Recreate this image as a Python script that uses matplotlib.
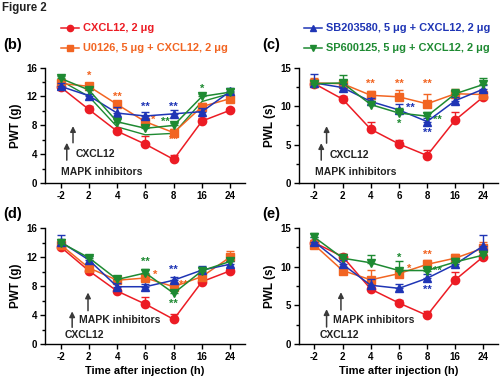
import matplotlib
matplotlib.use("Agg")
import matplotlib.pyplot as plt
from matplotlib.lines import Line2D
import numpy as np

plt.rcParams['font.family'] = ['Liberation Sans', 'DejaVu Sans']
plt.rcParams['font.weight'] = 'bold'

times = ["-2", "2", "4", "6", "8", "16", "24"]
series_names = ["CXCL12, 2 μg", "U0126, 5 μg + CXCL12, 2 μg",
                "SB203580, 5 μg + CXCL12, 2 μg", "SP600125, 5 μg + CXCL12, 2 μg"]
colors = ["#ec1c24", "#f26522", "#1f35b5", "#1e8a32"]
markers = ["o", "s", "^", "v"]

# Panel (b) PWT
b_red = [13.3, 10.2, 7.2, 5.4, 3.3, 8.6, 10.1]
b_orange = [13.8, 13.4, 10.9, 8.5, 7.0, 10.6, 11.7]
b_blue = [13.4, 12.1, 9.7, 9.3, 9.6, 9.9, 12.7]
b_green = [14.5, 12.9, 8.5, 7.6, 8.0, 12.0, 12.6]
b_green2 = [14.2, 12.0, 7.8, 6.7, 6.9, 11.3, 12.4]
b_err = [[0.3, 0.5, 0.4, 1.1, 0.6, 0.4, 0.3],
         [0.4, 0.4, 0.5, 0.5, 0.5, 0.5, 0.8],
         [0.4, 0.3, 0.8, 0.5, 0.5, 0.5, 0.5],
         [0.3, 0.4, 0.5, 0.5, 0.4, 0.4, 0.4]]
# Panel (c) PWL
c_red = [12.9, 10.9, 7.0, 5.1, 3.6, 8.2, 11.2]
c_orange = [13.0, 12.9, 11.4, 11.2, 10.3, 11.6, 11.5]
c_blue = [13.0, 12.4, 10.6, 9.5, 8.0, 10.7, 12.2]
c_green = [12.9, 13.0, 10.2, 9.1, 8.7, 11.6, 12.8]
c_err = [[0.4, 0.4, 0.9, 0.5, 0.7, 1.1, 0.3],
         [0.6, 0.5, 0.6, 0.9, 1.3, 0.6, 0.5],
         [1.1, 0.4, 0.4, 0.8, 0.4, 0.5, 0.5],
         [0.4, 1.0, 0.4, 0.6, 0.5, 0.6, 0.8]]
# Panel (d) PWT
d_red = [13.4, 10.1, 7.3, 5.5, 3.4, 8.6, 10.1]
d_orange = [13.7, 10.5, 8.8, 9.1, 7.9, 9.3, 12.0]
d_blue = [14.1, 11.6, 7.9, 7.9, 8.8, 10.2, 11.0]
d_green = [14.0, 11.9, 8.9, 9.8, 7.0, 10.1, 11.4]
d_err = [[0.3, 0.3, 0.3, 1.0, 0.7, 0.3, 0.3],
         [0.5, 0.5, 0.4, 0.6, 0.6, 0.6, 0.8],
         [0.9, 0.5, 0.5, 0.4, 0.5, 0.6, 0.4],
         [0.5, 0.3, 0.5, 0.6, 0.5, 0.5, 0.5]]
# Panel (e) PWL
e_red = [13.1, 11.3, 7.1, 5.3, 3.7, 8.3, 11.3]
e_orange = [12.8, 9.5, 8.3, 9.1, 10.3, 11.1, 12.4]
e_blue = [13.2, 10.3, 7.6, 7.2, 8.5, 10.3, 12.7]
e_green = [13.8, 11.1, 10.5, 9.5, 9.5, 10.6, 11.5]
e_err = [[0.4, 0.4, 0.3, 0.4, 0.6, 1.0, 0.3],
         [0.6, 0.5, 1.3, 0.6, 0.5, 0.6, 0.8],
         [0.6, 0.6, 0.8, 0.6, 0.5, 0.5, 1.4],
         [0.6, 0.6, 1.0, 1.2, 0.6, 0.5, 0.5]]

# asterisks: (x position, y value, text, color index)
b_stars = [(1, 14.8, "*", 1), (2, 11.9, "**", 1), (3, 10.5, "**", 2), (3.27, 8.7, "*", 1),
           (3.72, 8.5, "**", 3), (4, 10.6, "**", 2), (4, 6.0, "**", 1), (5, 13.1, "*", 3)]
c_stars = [(2, 12.9, "**", 1), (3, 12.9, "**", 1), (4, 12.9, "**", 1), (3.4, 9.8, "**", 2),
           (3, 7.7, "*", 3), (4, 6.6, "**", 2), (4.35, 8.2, "**", 3)]
d_stars = [(3, 11.3, "**", 3), (3.35, 9.6, "*", 1), (4, 10.2, "**", 2), (4.35, 8.1, "**", 1),
           (4, 5.6, "**", 3)]
e_stars = [(3, 11.2, "*", 3), (3.35, 9.7, "*", 1), (4, 11.5, "**", 1), (4.35, 9.4, "**", 3),
           (4, 7.0, "**", 2)]

W, H = 500, 380
fig = plt.figure(figsize=(W / 100, H / 100), dpi=100)


def box(l, r, top, bot):
    return [l / W, 1 - bot / H, (r - l) / W, (bot - top) / H]


def panel(rect, data, errs, extra, ymax, ystep, ylabel, stars, arrows, texts, xlabel):
    ax = fig.add_axes(rect)
    x = np.arange(len(times))
    order = [3, 1, 0, 2]
    if extra is not None:
        ax.plot(x, extra, color=colors[3], lw=1.0, zorder=2)
    for i in order:
        ax.errorbar(x, data[i], yerr=[np.zeros(len(times)), errs[i]], color=colors[i],
                    marker=markers[i], ms=6, lw=1.1, elinewidth=1.0, capsize=2.8,
                    capthick=1.0, zorder=3 + i)
    for (sx, sy, st, ci) in stars:
        ax.text(sx, sy, st, color=colors[ci], fontsize=8, ha='center', va='center',
                fontweight='bold')
    for (ax_x, y0, y1) in arrows:
        ax.annotate("", xy=(ax_x, y1), xytext=(ax_x, y0),
                    arrowprops=dict(arrowstyle='-|>', color='#3a3a3a', lw=1.1,
                                    mutation_scale=8, shrinkA=0, shrinkB=0))
    for (tx, ty, tt) in texts:
        ax.text(tx, ty, tt, fontsize=7.5, ha='left', va='center', color='#222222',
                fontweight='bold')
    ax.set_xlim(-0.55, 6.52)
    ax.set_ylim(0, ymax)
    ax.set_xticks(x)
    ax.set_xticklabels(times)
    ax.set_yticks(np.arange(0, ymax + 0.01, ystep))
    ax.set_yticks(np.arange(0, ymax + 0.01, ystep / 2), minor=True)
    ax.spines['top'].set_visible(False)
    ax.spines['right'].set_visible(False)
    for s in ['left', 'bottom']:
        ax.spines[s].set_linewidth(1.0)
    ax.tick_params(axis='both', labelsize=7, width=1.0, length=3.5, pad=2)
    ax.tick_params(axis='y', which='minor', width=1.0, length=2)
    for lab in ax.get_xticklabels() + ax.get_yticklabels():
        lab.set_fontweight('bold')
    ax.set_ylabel(ylabel, fontsize=8.5, fontweight='bold', labelpad=3)
    if xlabel:
        ax.set_xlabel("Time after injection (h)", fontsize=8, fontweight='bold', labelpad=3)
    return ax


panel(box(45, 245, 67.5, 183.3), [b_red, b_orange, b_blue, b_green], b_err, b_green2,
      16, 4, "PWT (g)", b_stars,
      [(0.22, 3.2, 5.6), (0.44, 5.6, 7.9)],
      [(0.55, 4.0, "CXCL12"), (0.02, 1.5, "MAPK inhibitors")], False)
panel(box(299, 498, 67.5, 183.3), [c_red, c_orange, c_blue, c_green], c_err, None,
      15, 5, "PWL (s)", c_stars,
      [(0.24, 3.0, 5.2), (0.43, 5.2, 7.4)],
      [(0.55, 3.7, "CXCL12"), (0.02, 1.5, "MAPK inhibitors")], False)
panel(box(45, 245, 228, 344), [d_red, d_orange, d_blue, d_green], d_err, None,
      16, 4, "PWT (g)", d_stars,
      [(0.41, 2.3, 4.5), (0.97, 4.6, 7.1)],
      [(0.64, 3.3, "MAPK inhibitors"), (0.14, 1.2, "CXCL12")], True)
panel(box(299, 498, 228, 344), [e_red, e_orange, e_blue, e_green], e_err, None,
      15, 5, "PWL (s)", e_stars,
      [(0.43, 2.2, 4.5), (0.94, 4.4, 6.7)],
      [(0.66, 3.1, "MAPK inhibitors"), (0.2, 1.2, "CXCL12")], True)

# panel labels
for (px, py, pl) in [(3, 45, "(b)"), (262, 45, "(c)"), (3, 214, "(d)"), (262, 214, "(e)")]:
    fig.text(px / W, 1 - py / H, pl, fontsize=10.5, fontweight='bold', ha='left', va='center')

fig.text(2 / W, 1 - 8 / H, "Figure 2", fontsize=8.3, fontweight='bold', ha='left', va='center',
         color='#222222')

# legend (manual)
leg_pos = [(70, 28), (70, 48), (313, 28), (313, 48)]
for i, (lx, ly) in enumerate(leg_pos):
    yy = 1 - ly / H
    fig.add_artist(Line2D([(lx - 9) / W, lx / W, (lx + 9) / W], [yy, yy, yy],
                          transform=fig.transFigure, color=colors[i], lw=1.1,
                          marker=markers[i], markevery=[1], ms=4.5))
    fig.text((lx + 13) / W, yy, series_names[i], color=colors[i], fontsize=7.9,
             fontweight='bold', ha='left', va='center')

fig.savefig("out.png", dpi=100)
